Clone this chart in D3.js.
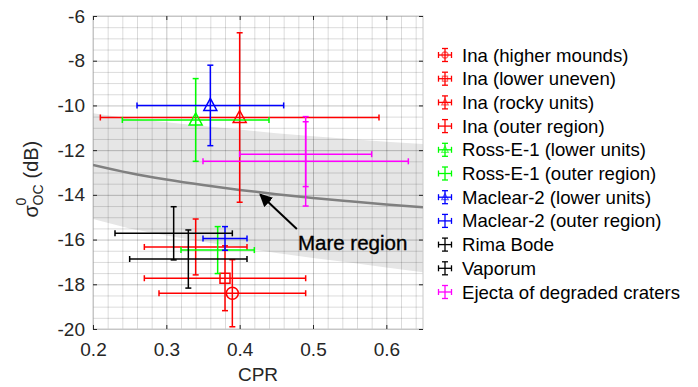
<!DOCTYPE html>
<html>
<head>
<meta charset="utf-8">
<script src="https://cdn.jsdelivr.net/npm/d3@7"></script>
<style>
  body { margin: 0; background: #fff; }
  svg { font-family: "Liberation Sans", Arial, Helvetica, sans-serif; }
</style>
</head>
<body>
<div id="chart"></div>
<script>
// legend entries
var categories = ["Ina (higher mounds)", "Ina (lower uneven)", "Ina (rocky units)", "Ina (outer region)",
    "Ross-E-1 (lower units)", "Ross-E-1 (outer region)", "Maclear-2 (lower units)", "Maclear-2 (outer region)",
    "Rima Bode", "Vaporum", "Ejecta of degraded craters"];
var seriesColors = ["#ff0000", "#ff0000", "#ff0000", "#ff0000", "#00ff00", "#00ff00",
    "#0000ff", "#0000ff", "#000000", "#000000", "#ff00ff"];
var seriesMarkers = ["circle", "square", "triangle", "none", "triangle", "none",
    "triangle", "none", "none", "none", "none"];

// error bars (the last one is a second ejecta bar)
var barSeries   = [0, 1, 2, 3, 4, 5, 6, 7, 8, 9, 10, 10];
var cprValues   = [0.39, 0.38, 0.40, 0.34, 0.34, 0.37, 0.36, 0.38, 0.31, 0.33, 0.49, 0.49];
var sigmaValues = [-18.4, -17.73, -10.54, -16.33, -10.65, -16.47, -10.0, -15.95, -15.72, -16.87, -12.5, -12.18];
var cprErr      = [0.10, 0.11, 0.19, 0.07, 0.10, 0.05, 0.10, 0.03, 0.08, 0.08, 0.14, 0.09];
var sigmaErr    = [1.5, 1.45, 3.79, 1.25, 1.85, 1.05, 1.8, 0.53, 1.19, 1.3, 2.0, 1.45];

// mare region trend and band
var mareCpr   = [0.2, 0.25, 0.3, 0.35, 0.4, 0.45, 0.5, 0.55, 0.6, 0.65];
var mareSigma = [-12.66, -13.02, -13.31, -13.56, -13.78, -13.97, -14.14, -14.29, -14.43, -14.56];
var bandUpper = [-10.35, -10.58, -10.75, -10.92, -11.08, -11.24, -11.38, -11.5, -11.62, -11.72];
var bandLower = [-15.08, -15.5, -15.82, -16.1, -16.35, -16.6, -16.82, -17.03, -17.25, -17.46];

var xTicks = [0.2, 0.3, 0.4, 0.5, 0.6];
var yTicks = [-6, -8, -10, -12, -14, -16, -18, -20];

// annotation, data units
var arrowTail = [0.478, -15.53];
var arrowHead = [0.428, -13.98];
var annoText = "Mare region";
var annoPos = [0.4795, -16.45];

var margin = { top: 16, right: 275, bottom: 58, left: 93 };
var width = 698 - margin.left - margin.right;
var height = 387 - margin.top - margin.bottom;

var svg = d3.select("#chart").append("svg")
    .attr("width", 698)
    .attr("height", 387);

var defs = svg.append("defs");
defs.append("clipPath").attr("id", "clip")
    .append("rect").attr("width", width).attr("height", height);
defs.append("marker")
    .attr("id", "arrowhead")
    .attr("viewBox", "0 0 10 10")
    .attr("refX", 9).attr("refY", 5)
    .attr("markerWidth", 6.5).attr("markerHeight", 6.5)
    .attr("markerUnits", "strokeWidth")
    .attr("orient", "auto")
    .append("path").attr("d", "M0,0 L10,5 L0,10 z").attr("fill", "#000");

var g = svg.append("g")
    .attr("transform", "translate(" + margin.left + "," + margin.top + ")");

var x = d3.scaleLinear().domain([0.2, 0.65]).range([0, width]);
var y = d3.scaleLinear().domain([-20, -6]).range([height, 0]);

// band
var bandData = mareCpr.map(function(d, i) { return { x: d, y0: bandLower[i], y1: bandUpper[i] }; });
g.append("path")
    .datum(bandData)
    .attr("fill", "#e6e6e6")
    .attr("d", d3.area()
        .x(function(d) { return x(d.x); })
        .y0(function(d) { return y(d.y0); })
        .y1(function(d) { return y(d.y1); }));

// grid
var xMinor = d3.range(0.2, 0.6501, 0.02);
var yMinor = d3.range(-20, -5.99, 0.5);
g.append("g").attr("class", "grid")
    .attr("transform", "translate(0," + height + ")")
    .call(d3.axisBottom(x).tickValues(xMinor).tickSize(-height).tickFormat(""));
g.append("g").attr("class", "grid")
    .call(d3.axisLeft(y).tickValues(yMinor).tickSize(-width).tickFormat(""));
g.append("g").attr("class", "grid major")
    .attr("transform", "translate(0," + height + ")")
    .call(d3.axisBottom(x).tickValues(xTicks).tickSize(-height).tickFormat(""));
g.append("g").attr("class", "grid major")
    .call(d3.axisLeft(y).tickValues(yTicks).tickSize(-width).tickFormat(""));
g.selectAll(".grid .domain").remove();
g.selectAll(".grid line").attr("stroke", "#000").attr("stroke-opacity", 0.14);
g.selectAll(".grid.major line").attr("stroke-opacity", 0.1);

// box
g.append("rect")
    .attr("width", width).attr("height", height)
    .attr("fill", "none").attr("stroke", "#c8c8c8").attr("stroke-width", 1);

// axes
var xAxis = g.append("g")
    .attr("transform", "translate(0," + height + ")")
    .call(d3.axisBottom(x).tickValues(xTicks).tickSize(-4).tickPadding(14).tickFormat(d3.format(".1f")));
var yAxis = g.append("g")
    .call(d3.axisLeft(y).tickValues(yTicks).tickSize(-4).tickPadding(8).tickFormat(function(d) { return d; }));
g.append("g").call(d3.axisTop(x).tickValues(xTicks).tickSize(-4).tickFormat(""));
g.append("g").attr("transform", "translate(" + width + ",0)")
    .call(d3.axisRight(y).tickValues(yTicks).tickSize(-4).tickFormat(""));
g.selectAll(".domain").remove();
g.selectAll(".tick line").filter(function() { return !this.closest(".grid"); })
    .attr("stroke", "#262626");
xAxis.selectAll("text").attr("font-size", "19px").attr("fill", "#262626")
    .attr("font-family", "Liberation Sans, Arial, sans-serif");
yAxis.selectAll("text").attr("font-size", "19px").attr("fill", "#262626")
    .attr("font-family", "Liberation Sans, Arial, sans-serif");

// axis labels
svg.append("text")
    .attr("x", margin.left + width / 2)
    .attr("y", 381)
    .attr("text-anchor", "middle")
    .attr("font-size", "19px")
    .attr("fill", "#262626")
    .text("CPR");

var yl = svg.append("g")
    .attr("transform", "translate(38," + (margin.top + height / 2) + ") rotate(-90)")
    .attr("fill", "#262626");
yl.append("text").attr("x", -45).attr("y", 0).attr("font-size", "20px").text("σ");
yl.append("text").attr("x", -33).attr("y", -12).attr("font-size", "14px").text("0");
yl.append("text").attr("x", -33).attr("y", 5).attr("font-size", "14px").text("OC");
yl.append("text").attr("x", -6).attr("y", 0).attr("font-size", "20px").text("(dB)");

// plot content
var plot = g.append("g").attr("clip-path", "url(#clip)");

plot.append("path")
    .datum(mareCpr.map(function(d, i) { return [d, mareSigma[i]]; }))
    .attr("fill", "none")
    .attr("stroke", "#808080")
    .attr("stroke-width", 2.5)
    .attr("d", d3.line().curve(d3.curveMonotoneX)
        .x(function(d) { return x(d[0]); })
        .y(function(d) { return y(d[1]); }));

var cap = 3;
var bars = barSeries.map(function(s, i) {
    return { s: s, cx: cprValues[i], cy: sigmaValues[i], ex: cprErr[i], ey: sigmaErr[i] };
});

var barG = plot.selectAll(".ebar")
    .data(bars)
    .enter().append("g")
    .attr("class", "ebar")
    .attr("stroke", function(d) { return seriesColors[d.s]; })
    .attr("stroke-width", 1.5)
    .attr("fill", "none");

barG.each(function(d) {
    var el = d3.select(this);
    var px = x(d.cx), py = y(d.cy);
    var x0 = x(d.cx - d.ex), x1 = x(d.cx + d.ex);
    var y0 = y(d.cy - d.ey), y1 = y(d.cy + d.ey);
    el.append("line").attr("x1", px).attr("x2", px).attr("y1", y0).attr("y2", y1);
    el.append("line").attr("x1", px - cap).attr("x2", px + cap).attr("y1", y0).attr("y2", y0);
    el.append("line").attr("x1", px - cap).attr("x2", px + cap).attr("y1", y1).attr("y2", y1);
    el.append("line").attr("x1", x0).attr("x2", x1).attr("y1", py).attr("y2", py);
    el.append("line").attr("x1", x0).attr("x2", x0).attr("y1", py - cap).attr("y2", py + cap);
    el.append("line").attr("x1", x1).attr("x2", x1).attr("y1", py - cap).attr("y2", py + cap);
    drawMarker(el, seriesMarkers[d.s], px, py, 1);
});

function drawMarker(el, type, px, py, k) {
    if (type === "circle") {
        el.append("circle").attr("cx", px).attr("cy", py).attr("r", 6 * k);
    } else if (type === "square") {
        el.append("rect").attr("x", px - 5 * k).attr("y", py - 5 * k)
            .attr("width", 10 * k).attr("height", 10 * k);
    } else if (type === "triangle") {
        el.append("path").attr("d", "M" + px + "," + (py - 7 * k) +
            " L" + (px + 6.5 * k) + "," + (py + 5 * k) +
            " L" + (px - 6.5 * k) + "," + (py + 5 * k) + " Z");
    }
}

// annotation
g.append("line")
    .attr("x1", x(arrowTail[0])).attr("y1", y(arrowTail[1]))
    .attr("x2", x(arrowHead[0])).attr("y2", y(arrowHead[1]))
    .attr("stroke", "#000").attr("stroke-width", 2)
    .attr("marker-end", "url(#arrowhead)");
g.append("text")
    .attr("x", x(annoPos[0])).attr("y", y(annoPos[1]))
    .attr("font-size", "20.5px")
    .attr("fill", "#000")
    .attr("stroke", "#000")
    .attr("stroke-width", 0.35)
    .text(annoText);

// legend
var legend = svg.append("g").attr("transform", "translate(445,55)");
var item = legend.selectAll(".item")
    .data(categories)
    .enter().append("g")
    .attr("class", "item")
    .attr("transform", function(d, i) { return "translate(0," + (i * 23.7) + ")"; });

item.each(function(d, i) {
    var el = d3.select(this).append("g")
        .attr("stroke", seriesColors[i]).attr("stroke-width", 1.3).attr("fill", "none");
    var a = 6.5, c = 3;
    el.append("line").attr("x1", 0).attr("x2", 0).attr("y1", -a).attr("y2", a);
    el.append("line").attr("x1", -a).attr("x2", a).attr("y1", 0).attr("y2", 0);
    el.append("line").attr("x1", -c).attr("x2", c).attr("y1", -a).attr("y2", -a);
    el.append("line").attr("x1", -c).attr("x2", c).attr("y1", a).attr("y2", a);
    el.append("line").attr("x1", -a).attr("x2", -a).attr("y1", -c).attr("y2", c);
    el.append("line").attr("x1", a).attr("x2", a).attr("y1", -c).attr("y2", c);
    var m = el.append("g").attr("stroke-opacity", 0.6);
    drawMarker(m, seriesMarkers[i], 0, 0, 0.5);
});

item.append("text")
    .attr("x", 17)
    .attr("y", 6.5)
    .attr("font-size", "18.6px")
    .attr("fill", "#000")
    .text(function(d) { return d; });
</script>
</body>
</html>
